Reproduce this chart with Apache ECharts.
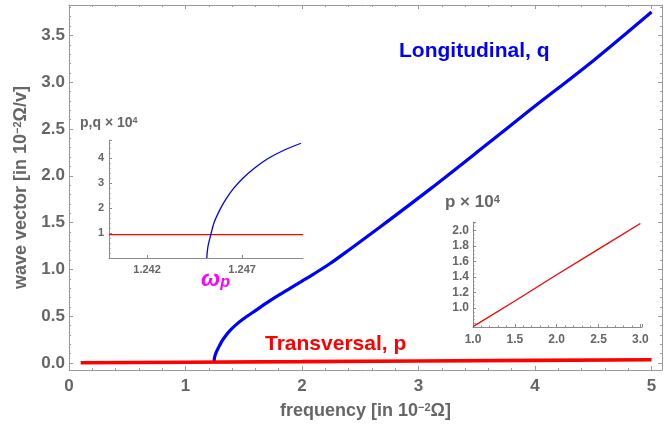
<!DOCTYPE html>
<html><head><meta charset="utf-8">
<script src="https://cdn.jsdelivr.net/npm/echarts@6/dist/echarts.min.js"></script>
<style>html,body{margin:0;padding:0;background:#fff}#c{width:669px;height:431px}</style>
</head><body><div id="c"></div>
<script>
// ---- data ----
const mainXTicks = [0, 1, 2, 3, 4, 5];
const mainYTicks = [0, 0.5, 1, 1.5, 2, 2.5, 3, 3.5];
const longitudinalQ = [[1.245,0],[1.2465,0.035],[1.25,0.062],[1.257,0.094],[1.267,0.124],[1.29,0.18],[1.31,0.228],[1.34,0.283],[1.381,0.345],[1.43,0.405],[1.495,0.47],[1.6,0.56],[1.7,0.645],[1.8,0.725],[1.9,0.80],[2.0,0.875],[2.1,0.95],[2.238,1.06],[2.4,1.205],[2.667,1.45],[3.096,1.855],[3.525,2.275],[3.954,2.70],[4.5,3.23],[5,3.75]];
const transversalP = [[0.1,0.002],[1,0.008],[2,0.014],[3,0.021],[4,0.028],[5,0.034]];

const inset1XTicks = [1.242, 1.247];
const inset1YTicks = [1, 2, 3, 4];
const inset1Q = [[1.24514,0],[1.2452,0.45],[1.24535,0.93],[1.24554,1.45],[1.24584,1.95],[1.24614,2.35],[1.24654,2.78],[1.24704,3.2],[1.24764,3.6],[1.24834,3.98],[1.24914,4.3],[1.25009,4.60]];
const inset1P = [[1.240,0.94],[1.2502,0.94]];

const inset2XTicks = [1.0, 1.5, 2.0, 2.5, 3.0];
const inset2YTicks = [1.0, 1.2, 1.4, 1.6, 1.8, 2.0];
const inset2P = [[1.0,0.76],[1.5,1.09],[2.0,1.43],[2.5,1.76],[3.0,2.09]];

// ---- styling ----
const FONT = '"Liberation Sans", Arial, sans-serif';
const TXT = '#666666';
const FRAME = '#9a9a9a';
const near = (v, arr) => arr.some(t => Math.abs(t - v) < 1e-6);
const fmt = (arr, d) => v => near(v, arr) ? Number(v).toFixed(d) : '';

function frameAxis(extra) {
  return Object.assign({
    type: 'value', gridIndex: 0,
    axisLine: { show: true, onZero: false, lineStyle: { color: FRAME, width: 1 } },
    axisTick: { show: true, inside: true, length: 4, lineStyle: { color: FRAME } },
    minorTick: { show: true, splitNumber: 5, length: 2, lineStyle: { color: FRAME } },
    splitLine: { show: false }, minorSplitLine: { show: false }
  }, extra);
}
function insetAxis(extra) {
  return Object.assign({
    type: 'value',
    axisLine: { show: true, onZero: false, lineStyle: { color: '#8a8a8a', width: 1 } },
    axisTick: { show: true, inside: true, length: 3, lineStyle: { color: '#8a8a8a' } },
    minorTick: { show: true, splitNumber: 5, length: 1.5, lineStyle: { color: '#8a8a8a' } },
    splitLine: { show: false }, minorSplitLine: { show: false }
  }, extra);
}
const mainLabel = { color: TXT, fontFamily: FONT, fontWeight: 'bold', fontSize: 17 };
const supRich = {
  b: { fontFamily: FONT, fontWeight: 'bold', fontSize: 18, color: TXT },
  s: { fontFamily: FONT, fontWeight: 'bold', fontSize: 11, color: TXT, verticalAlign: 'top', padding: [0, 0, 7, 0] }
};

const chart = echarts.init(document.getElementById('c'), null, { renderer: 'canvas' });
chart.setOption({
  animation: false,
  backgroundColor: '#ffffff',
  grid: [
    { left: 69, top: 5, width: 593, height: 365 },
    { left: 109, top: 140, width: 194, height: 118 },
    { left: 473, top: 222, width: 169, height: 105 }
  ],
  xAxis: [
    frameAxis({ position: 'bottom', min: 0, max: 5.09, interval: 1,
      axisLabel: Object.assign({ margin: 8, formatter: fmt(mainXTicks, 0) }, mainLabel),
      name: '{b|frequency [in 10}{s|−2}{b|Ω]}', nameLocation: 'middle', nameGap: 32,
      nameTextStyle: { rich: supRich } }),
    frameAxis({ position: 'top', min: 0, max: 5.09, interval: 1, axisLabel: { show: false } }),
    insetAxis({ gridIndex: 1, min: 1.240, max: 1.2502,
      axisTick: { show: true, inside: true, length: 3, customValues: inset1XTicks, lineStyle: { color: '#8a8a8a' } },
      minorTick: { show: false },
      axisLabel: { customValues: inset1XTicks, formatter: v => Number(v).toFixed(3), color: TXT, fontFamily: FONT, fontWeight: 'bold', fontSize: 11, margin: 6 } }),
    insetAxis({ gridIndex: 2, min: 1.0, max: 3.02, interval: 0.5,
      axisLabel: { formatter: fmt(inset2XTicks, 1), color: TXT, fontFamily: FONT, fontWeight: 'bold', fontSize: 12, margin: 7 } })
  ],
  yAxis: [
    frameAxis({ position: 'left', min: -0.075, max: 3.825, splitNumber: 8, minInterval: 0.5, maxInterval: 0.5,
      axisLabel: Object.assign({ margin: 4, formatter: fmt(mainYTicks, 1) }, mainLabel),
      name: '{b|wave vector [in 10}{s|−2}{b|Ω/v]}', nameLocation: 'middle', nameGap: 34,
      nameTextStyle: { rich: supRich } }),
    frameAxis({ position: 'right', min: -0.075, max: 3.825, splitNumber: 8, minInterval: 0.5, maxInterval: 0.5, axisLabel: { show: false } }),
    insetAxis({ gridIndex: 1, min: 0, max: 4.73, interval: 1,
      axisLabel: { formatter: fmt(inset1YTicks, 0), color: TXT, fontFamily: FONT, fontWeight: 'bold', fontSize: 11, margin: 5 } }),
    insetAxis({ gridIndex: 2, min: 0.755, max: 2.11, splitNumber: 7, minInterval: 0.2, maxInterval: 0.2,
      minorTick: { show: true, splitNumber: 4, length: 1.5, lineStyle: { color: '#8a8a8a' } },
      axisLabel: { formatter: fmt(inset2YTicks, 1), color: TXT, fontFamily: FONT, fontWeight: 'bold', fontSize: 12, margin: 4 } })
  ],
  series: [
    { type: 'line', xAxisIndex: 0, yAxisIndex: 0, data: transversalP, showSymbol: false, smooth: false,
      lineStyle: { color: '#ff0000', width: 3.6 }, z: 3 },
    { type: 'line', xAxisIndex: 0, yAxisIndex: 0, data: longitudinalQ, showSymbol: false, smooth: 0.3,
      lineStyle: { color: '#0000ff', width: 3.2 }, z: 2 },
    { type: 'line', xAxisIndex: 2, yAxisIndex: 2, data: inset1P, showSymbol: false,
      lineStyle: { color: '#ff0000', width: 1.3 } },
    { type: 'line', xAxisIndex: 2, yAxisIndex: 2, data: inset1Q, showSymbol: false, smooth: 0.3,
      lineStyle: { color: '#0000ff', width: 1.3 } },
    { type: 'line', xAxisIndex: 3, yAxisIndex: 3, data: inset2P, showSymbol: false,
      lineStyle: { color: '#ff0000', width: 1.3 } }
  ],
  graphic: [
    { type: 'text', x: 399, y: 41, style: { text: 'Longitudinal, q', fill: '#0000ff', font: 'bold 21px ' + FONT, textVerticalAlign: 'top' } },
    { type: 'text', x: 265, y: 334, style: { text: 'Transversal, p', fill: '#ff0000', font: 'bold 21px ' + FONT, textVerticalAlign: 'top' } },
    { type: 'text', x: 201, y: 268, style: { text: '{w|ω}{p|p}', rich: {
        w: { fontFamily: FONT, fontWeight: 'bold', fontStyle: 'italic', fontSize: 23, fill: '#ff00ff' },
        p: { fontFamily: FONT, fontWeight: 'bold', fontStyle: 'italic', fontSize: 16, fill: '#ff00ff', verticalAlign: 'bottom', padding: [6, 0, 0, 0] } } } },
    { type: 'text', x: 80, y: 116, style: { text: '{b|p,q × 10}{s|4}', rich: {
        b: { fontFamily: FONT, fontWeight: 'bold', fontSize: 14, fill: TXT },
        s: { fontFamily: FONT, fontWeight: 'bold', fontSize: 9, fill: TXT, verticalAlign: 'top', padding: [0, 0, 5, 0] } } } },
    { type: 'text', x: 445, y: 194, style: { text: '{b|p × 10}{s|4}', rich: {
        b: { fontFamily: FONT, fontWeight: 'bold', fontSize: 17, fill: TXT },
        s: { fontFamily: FONT, fontWeight: 'bold', fontSize: 11, fill: TXT, verticalAlign: 'top', padding: [0, 0, 6, 0] } } } }
  ]
});
</script></body></html>
